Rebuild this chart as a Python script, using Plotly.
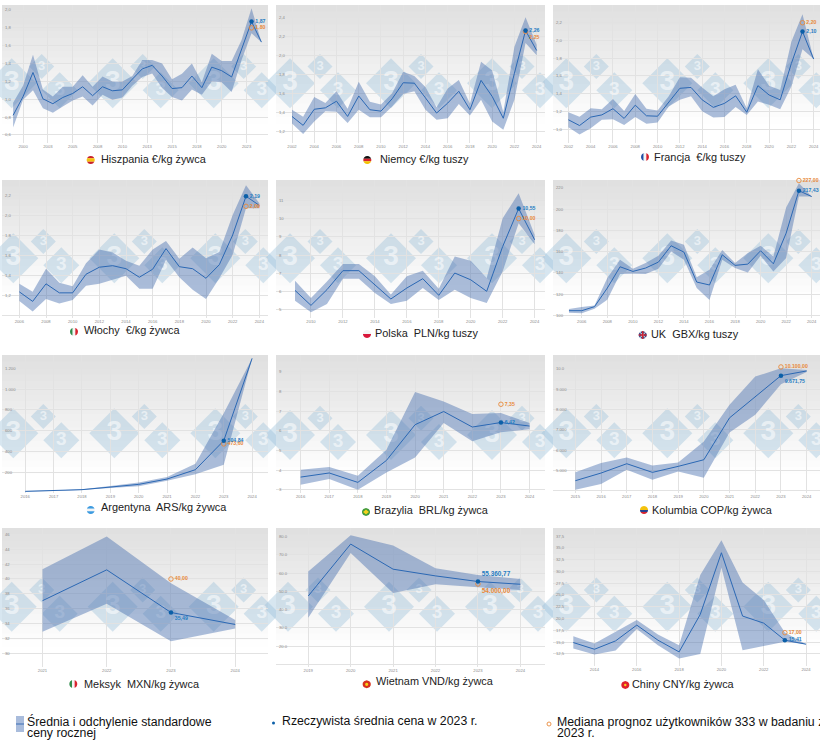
import plotly.graph_objects as go

W, H = 820, 750
FONT = "Liberation Sans"

# --- data ---
es_years = list(range(1999, 2025))
es_mean = [0.82, 1.03, 1.30, 1.005, 0.95, 1.02, 1.065, 1.14, 1.04, 1.14, 1.095, 1.105, 1.225, 1.34, 1.38, 1.26, 1.12, 1.13, 1.26, 1.13, 1.36, 1.32, 1.25, 1.55, 1.87, 1.64]
es_up = [0.96, 1.15, 1.50, 1.11, 1.03, 1.14, 1.14, 1.27, 1.14, 1.255, 1.20, 1.20, 1.26, 1.44, 1.44, 1.40, 1.225, 1.285, 1.40, 1.19, 1.51, 1.43, 1.43, 1.665, 2.02, 1.64]
es_low = [0.685, 0.995, 1.10, 0.90, 0.85, 0.92, 0.985, 1.03, 0.93, 1.05, 0.995, 1.02, 1.15, 1.25, 1.29, 1.125, 1.025, 0.985, 1.11, 1.05, 1.20, 1.19, 1.08, 1.44, 1.74, 1.64]
es_xticks = [2000, 2002.5, 2005, 2007.5, 2010, 2012.5, 2015, 2017.5, 2020, 2022.5]
es_xlabels = ["2000", "2003", "2005", "2008", "2010", "2013", "2015", "2018", "2020", "2023"]
es_yticks = [0.6, 0.8, 1.0, 1.2, 1.4, 1.6, 1.8, 2.0]
es_ylabels = ["0,6", "0,8", "1,0", "1,2", "1,4", "1,6", "1,8", "2,0"]

de_years = list(range(2002, 2025))
de_mean = [1.354, 1.26, 1.43, 1.445, 1.515, 1.354, 1.57, 1.425, 1.41, 1.54, 1.71, 1.705, 1.55, 1.39, 1.495, 1.62, 1.425, 1.735, 1.565, 1.335, 1.81, 2.26, 2.05]
de_up = [1.425, 1.35, 1.56, 1.495, 1.62, 1.435, 1.72, 1.51, 1.48, 1.60, 1.825, 1.78, 1.665, 1.45, 1.65, 1.74, 1.49, 1.93, 1.84, 1.40, 2.09, 2.40, 2.11]
de_low = [1.28, 1.17, 1.30, 1.41, 1.405, 1.285, 1.425, 1.345, 1.345, 1.46, 1.59, 1.62, 1.425, 1.32, 1.335, 1.485, 1.365, 1.53, 1.30, 1.215, 1.53, 2.13, 2.00]
de_xticks = list(range(2002, 2025, 2))
de_yticks = [1.2, 1.4, 1.6, 1.8, 2.0, 2.2, 2.4]
de_ylabels = ["1,2", "1,4", "1,6", "1,8", "2,0", "2,2", "2,4"]

fr_years = list(range(2002, 2025))
fr_mean = [1.105, 1.04, 1.135, 1.16, 1.23, 1.12, 1.27, 1.15, 1.145, 1.30, 1.46, 1.47, 1.33, 1.245, 1.29, 1.375, 1.19, 1.49, 1.385, 1.33, 1.74, 2.10, 1.79]
fr_up = [1.19, 1.14, 1.235, 1.225, 1.34, 1.205, 1.395, 1.23, 1.21, 1.37, 1.585, 1.58, 1.47, 1.37, 1.45, 1.50, 1.235, 1.675, 1.49, 1.44, 1.985, 2.295, 1.79]
fr_low = [1.02, 0.94, 1.01, 1.105, 1.11, 1.045, 1.135, 1.06, 1.075, 1.255, 1.33, 1.37, 1.20, 1.13, 1.135, 1.25, 1.16, 1.31, 1.275, 1.225, 1.48, 1.90, 1.79]
fr_xticks = list(range(2002, 2025, 2))
fr_yticks = [1.0, 1.2, 1.4, 1.6, 1.8, 2.0, 2.2]
fr_ylabels = ["1,0", "1,2", "1,4", "1,6", "1,8", "2,0", "2,2"]

it_years = list(range(2006, 2025))
it_mean = [1.24, 1.145, 1.32, 1.23, 1.23, 1.415, 1.485, 1.50, 1.47, 1.385, 1.465, 1.67, 1.49, 1.47, 1.375, 1.51, 1.805, 2.19, 2.10]
it_up = [1.32, 1.24, 1.47, 1.33, 1.295, 1.525, 1.66, 1.63, 1.55, 1.50, 1.66, 1.745, 1.57, 1.68, 1.575, 1.635, 2.005, 2.30, 2.12]
it_low = [1.15, 1.045, 1.17, 1.125, 1.16, 1.30, 1.32, 1.36, 1.40, 1.27, 1.27, 1.56, 1.385, 1.26, 1.17, 1.375, 1.61, 2.07, 2.07]
it_xticks = list(range(2006, 2025, 2))
it_yticks = [1.0, 1.2, 1.4, 1.6, 1.8, 2.0, 2.2]
it_ylabels = ["1,0", "1,2", "1,4", "1,6", "1,8", "2,0", "2,2"]

pl_years = list(range(2009, 2025))
pl_mean = [6.07, 5.25, 6.11, 7.15, 7.15, 6.38, 5.6, 6.2, 6.71, 5.8, 7.02, 6.65, 6.02, 8.47, 10.55, 8.84]
pl_up = [6.6, 5.65, 6.56, 7.51, 7.51, 6.84, 5.84, 6.84, 7.15, 6.16, 7.93, 7.69, 6.75, 10.02, 11.38, 9.11]
pl_low = [5.51, 4.87, 5.33, 6.71, 6.71, 5.93, 5.33, 5.51, 6.2, 5.55, 6.11, 5.65, 5.38, 7.11, 9.75, 8.6]
pl_xticks = list(range(2010, 2025, 2))
pl_yticks = [5, 6, 7, 8, 9, 10, 11]

uk_years = list(range(2005, 2025))
uk_mean = [104.3, 104.3, 108.1, 125.6, 145.7, 141.3, 144.5, 150.1, 165.5, 159.5, 131.3, 128.5, 157, 147, 148.2, 160.8, 148.5, 177.4, 217.43, 211.9]
uk_up = [105.9, 107.8, 109.3, 135, 152.3, 143.8, 149.2, 156, 170.5, 166.4, 135.7, 142.9, 161.4, 149.2, 158.6, 165.5, 155.4, 201.5, 224.4, 211.9]
uk_low = [102.4, 101.8, 106.2, 114.7, 138.8, 139.1, 138.8, 143.8, 160.1, 152.3, 125.6, 114.4, 152.3, 144.5, 140.4, 156, 141.3, 153.9, 211.9, 211.9]
uk_xticks = list(range(2006, 2025, 2))
uk_yticks = [100, 120, 140, 160, 180, 200, 220]

ar_years = list(range(2016, 2025))
ar_mean = [18, 24, 34, 59, 85, 136, 226, 504.84, 1296]
ar_up = [21, 27, 37, 69, 104, 155, 283, 769, 1296]
ar_low = [15, 21, 31, 50, 66, 120, 181, 273, 1296]
ar_xticks = list(range(2016, 2025))
ar_yticks = [200, 400, 600, 800, 1000, 1200]
ar_ylabels = ["200", "400", "600", "800", "1.000", "1.200"]

br_years = list(range(2016, 2025))
br_mean = [3.64, 3.85, 3.37, 4.49, 6.31, 6.98, 6.19, 6.42, 6.24]
br_up = [4.02, 4.15, 3.71, 5.03, 7.97, 7.49, 6.86, 6.90, 6.39]
br_low = [3.25, 3.54, 3.0, 3.88, 4.64, 6.39, 5.46, 5.92, 6.08]
br_xticks = list(range(2016, 2025))
br_yticks = [3, 4, 5, 6, 7, 8, 9]

co_years = list(range(2015, 2025))
co_mean = [4492, 4869, 5328, 4902, 5197, 5525, 7590, 8639, 9671.75, 9902]
co_up = [4902, 5361, 5639, 5246, 5393, 6426, 8230, 9623, 10033, 9951]
co_low = [4049, 4328, 5033, 4541, 4951, 4639, 6869, 7738, 9246, 9852]
co_xticks = list(range(2015, 2025))
co_yticks = [4000, 5000, 6000, 7000, 8000, 9000, 10000]
co_ylabels = ["4.000", "5.000", "6.000", "7.000", "8.000", "9.000", "10.0"]

mx_years = [2021, 2022, 2023, 2024]
mx_mean = [37.08, 41.23, 35.49, 33.88]
mx_up = [41.32, 45.73, 39.42, 34.47]
mx_low = [32.89, 36.68, 31.63, 33.34]
mx_xticks = [2021, 2022, 2023, 2024]
mx_yticks = [30, 32, 34, 36, 38, 40, 42, 44, 46]

vn_years = list(range(2019, 2025))
vn_mean = [47462, 75796, 62086, 58430, 55360.77, 53860]
vn_up = [60806, 80548, 75064, 62634, 58978, 56784]
vn_low = [35580, 70860, 49107, 53860, 52214, 50752]
vn_xticks = list(range(2019, 2025))
vn_yticks = [10000, 20000, 30000, 40000, 50000, 60000, 70000, 80000]
vn_ylabels = ["10.0", "20.0", "30.0", "40.0", "50.0", "60.0", "70.0", "80.0"]

cn_years = list(range(2013, 2025))
cn_mean = [14.91, 13.49, 15.27, 18.61, 15.41, 12.93, 20.88, 33.95, 20.53, 19.03, 15.41, 14.56]
cn_up = [16.26, 14.70, 17.19, 19.67, 16.62, 14.35, 29.26, 36.58, 27.63, 23.93, 17.05, 14.56]
cn_low = [13.64, 12.36, 13.21, 17.76, 14.35, 11.51, 12.5, 30.82, 13.28, 14.2, 15.06, 14.56]
cn_xticks = list(range(2014, 2025, 2))
cn_yticks = [12.5, 15, 17.5, 20, 22.5, 25, 27.5, 30, 32.5, 35, 37.5]
cn_ylabels = ["12,5", "15,0", "17,5", "20,0", "22,5", "25,0", "27,5", "30,0", "32,5", "35,0", "37,5"]

# actual 2023 mean and median forecast, with the labels printed next to them
es_point = (1.87, "1,87", 1.80, "1,80")
de_point = (2.26, "2,26", 2.25, "2,25")
fr_point = (2.10, "2,10", 2.20, "2,20")
it_point = (2.19, "2,19", 2.09, "2,09")
pl_point = (10.55, "10,55", 10.00, "10,00")
uk_point = (217.43, "217,43", 227.00, "227,00")
ar_point = (504.84, "504,84", 473.60, "473,60")
br_point = (6.42, "6,42", 7.35, "7,35")
co_point = (9671.75, "9.671,75", 10100.00, "10.100,00")
mx_point = (35.49, "35,49", 40.00, "40,00")
vn_point = (55360.77, "55.360,77", 54000.00, "54.000,00")
cn_point = (15.41, "15,41", 17.00, "17,00")

GREEN, WHITE, RED = "#2e8b4a", "#f4f4f4", "#d8232f"

panels = [
    dict(years=es_years, mean=es_mean, up=es_up, low=es_low, xt=es_xticks, xl=es_xlabels, yt=es_yticks, yl=es_ylabels, pt=es_point,
         box=(2, 5, 268, 143), bottom=150, xr=(1997.88, 2024.66), yr=(0.51, 2.056), wm=(11.7, 83.3),
         cap="Hiszpania €/kg żywca", cap_xy=(100, 159), flag_xy=(90.7, 160), stripes=[(-1, -0.45, "#c8202c"), (-0.45, 0.45, "#f4c20d"), (0.45, 1, "#c8202c")], vert=False),
    dict(years=de_years, mean=de_mean, up=de_up, low=de_low, xt=de_xticks, xl=None, yt=de_yticks, yl=de_ylabels, pt=de_point,
         box=(276, 5, 545, 143), bottom=150, xr=(2000.56, 2024.75), yr=(1.074, 2.53), wm=(290, 83.3),
         cap="Niemcy €/kg tuszy", cap_xy=(379.3, 159), flag_xy=(367.3, 160), stripes=[(-1, -0.33, "#111111"), (-0.33, 0.33, "#d8232f"), (0.33, 1, "#f2c200")], vert=False,
         median_pos="bottom right"),
    dict(years=fr_years, mean=fr_mean, up=fr_up, low=fr_low, xt=fr_xticks, xl=None, yt=fr_yticks, yl=fr_ylabels, pt=fr_point,
         box=(553, 5, 820, 143), bottom=150, xr=(2000.62, 2024.57), yr=(0.843, 2.40), wm=(566.3, 83.3),
         cap="Francja  €/kg tuszy", cap_xy=(653.3, 156.5), flag_xy=(645, 157), stripes=[(-1, -0.33, "#1f4ea3"), (-0.33, 0.33, WHITE), (0.33, 1, RED)], vert=True),
    dict(years=it_years, mean=it_mean, up=it_up, low=it_low, xt=it_xticks, xl=None, yt=it_yticks, yl=it_ylabels, pt=it_point,
         box=(2, 180, 268, 318), bottom=325, xr=(2004.7, 2024.65), yr=(0.98, 2.352), wm=(13.3, 258.3),
         cap="Włochy  €/kg żywca", cap_xy=(82.7, 330.3), flag_xy=(74, 331.7), stripes=[(-1, -0.33, GREEN), (-0.33, 0.33, WHITE), (0.33, 1, RED)], vert=True),
    dict(years=pl_years, mean=pl_mean, up=pl_up, low=pl_low, xt=pl_xticks, xl=None, yt=pl_yticks, yl=None, pt=pl_point,
         box=(276, 180, 545, 318), bottom=325, xr=(2007.81, 2024.65), yr=(4.56, 12.11), wm=(290, 258.3),
         cap="Polska  PLN/kg tuszy", cap_xy=(374.3, 333.3), flag_xy=(367, 334), stripes=[(-1, 0, WHITE), (0, 1, "#d8173a")], vert=False),
    dict(years=uk_years, mean=uk_mean, up=uk_up, low=uk_low, xt=uk_xticks, xl=None, yt=uk_yticks, yl=None, pt=uk_point,
         box=(553, 180, 820, 318), bottom=325, xr=(2003.75, 2024.65), yr=(97.4, 227.5), wm=(566.3, 258.3),
         cap="UK  GBX/kg tuszy", cap_xy=(650.3, 333.7), flag_xy=(642.7, 335), stripes=[(-1, 1, "#3a4a86")], vert=False),
    dict(years=ar_years, mean=ar_mean, up=ar_up, low=ar_low, xt=ar_xticks, xl=None, yt=ar_yticks, yl=ar_ylabels, pt=ar_point,
         box=(2, 355, 268, 493), bottom=500, xr=(2015.18, 2024.56), yr=(2, 1328), wm=(13.3, 433.3),
         cap="Argentyna  ARS/kg żywca", cap_xy=(100, 507.3), flag_xy=(90.7, 510), stripes=[(-1, -0.33, "#3d9be0"), (-0.33, 0.33, WHITE), (0.33, 1, "#3d9be0")], vert=False),
    dict(years=br_years, mean=br_mean, up=br_up, low=br_low, xt=br_xticks, xl=None, yt=br_yticks, yl=None, pt=br_point,
         box=(276, 355, 545, 493), bottom=500, xr=(2015.14, 2024.54), yr=(2.83, 9.86), wm=(290, 435),
         cap="Brazylia  BRL/kg żywca", cap_xy=(372.7, 510.3), flag_xy=(366, 512), stripes=[(-1, 1, "#3f9a3c")], vert=False),
    dict(years=co_years, mean=co_mean, up=co_up, low=co_low, xt=co_xticks, xl=None, yt=co_yticks, yl=co_ylabels, pt=co_point,
         box=(553, 355, 820, 493), bottom=500, xr=(2014.13, 2024.52), yr=(3885, 10689), wm=(566.3, 433.3),
         cap="Kolumbia COP/kg żywca", cap_xy=(651.3, 510), flag_xy=(644, 510), stripes=[(-1, 0, "#f4c20d"), (0, 0.5, "#27408f"), (0.5, 1, "#d8232f")], vert=False,
         real_pos="bottom right"),
    dict(years=mx_years, mean=mx_mean, up=mx_up, low=mx_low, xt=mx_xticks, xl=None, yt=mx_yticks, yl=None, pt=mx_point,
         box=(2, 528, 268, 667), bottom=673, xr=(2020.37, 2024.51), yr=(28.16, 46.86), wm=(11.7, 606.7),
         cap="Meksyk  MXN/kg żywca", cap_xy=(82.7, 684), flag_xy=(73.3, 684), stripes=[(-1, -0.33, GREEN), (-0.33, 0.33, WHITE), (0.33, 1, RED)], vert=True,
         real_pos="bottom right"),
    dict(years=vn_years, mean=vn_mean, up=vn_up, low=vn_low, xt=vn_xticks, xl=None, yt=vn_yticks, yl=vn_ylabels, pt=vn_point,
         box=(276, 528, 545, 667), bottom=673, xr=(2018.24, 2024.58), yr=(8708, 84570), wm=(288, 606.7),
         cap="Wietnam VND/kg żywca", cap_xy=(374.7, 681.3), flag_xy=(366.7, 684.3), stripes=[(-1, 1, "#d8301c")], vert=False,
         real_pos="top right", median_pos="bottom right", label_size=6.4),
    dict(years=cn_years, mean=cn_mean, up=cn_up, low=cn_low, xt=cn_xticks, xl=None, yt=cn_yticks, yl=cn_ylabels, pt=cn_point,
         box=(553, 528, 820, 666), bottom=672, xr=(2012.04, 2024.66), yr=(9.94, 39.2), wm=(566.3, 606.7),
         cap="Chiny CNY/kg żywca", cap_xy=(631.3, 684), flag_xy=(625.3, 685), stripes=[(-1, 1, "#e0202c")], vert=False),
]


def px(x):
    return x / W


def py(y):
    return 1 - y / H


def poly_path(points):
    return "M " + " L ".join(f"{px(x):.5f},{py(y):.5f}" for x, y in points) + " Z"


def flag_shapes(cx, cy, stripes, vert, r=4):
    out = []
    for a, b, color in stripes:
        steps = [a + (b - a) * k / 8 for k in range(9)]
        right = [(max(1 - t * t, 0) ** 0.5, t) for t in steps]
        left = [(-u, t) for u, t in reversed(right)]
        pts = right + left
        if vert:
            pts = [(t, u) for u, t in pts]
        pts = [(cx + u * r, cy + t * r) for u, t in pts]
        out.append(dict(type="path", path=poly_path(pts), xref="paper", yref="paper",
                        fillcolor=color, line_width=0, layer="below"))
    return out


shapes = []
annotations = []
fig = go.Figure()

for i, p in enumerate(panels, start=1):
    suffix = "" if i == 1 else str(i)
    xname, yname = f"x{suffix}", f"y{suffix}"
    left, top, right, bot = p["box"]
    x0, x1 = p["xr"]
    y0, y1 = p["yr"]

    # grey-to-white panel background, painted top down so no seams show
    nbands = 22
    for k in range(nbands):
        t = k / (nbands - 1)
        g = round(224 + (255 - 224) * min(t / 0.85, 1))
        yy = top + (p["bottom"] - top) * k / nbands
        shapes.append(dict(type="rect", xref="paper", yref="paper", layer="below", line_width=0,
                           x0=px(left), x1=px(right), y0=py(yy), y1=py(p["bottom"]),
                           fillcolor=f"rgb({g},{g},{g})"))

    # watermark: three clusters of diamonds with a "3"
    wx, wy = p["wm"]
    tx, ty, ts = [], [], []
    for rep in range(3):
        for dx, dy, half, size in [(0, 0, 25, 28), (30, -16.7, 12.5, 13), (48, 7, 18, 19)]:
            cx, cy = wx + rep * 101 + dx, wy + dy
            dom = [(cx - half, cy), (cx, cy - half), (cx + half, cy), (cx, cy + half)]
            path = "M " + " L ".join(f"{(a - left) / (right - left):.4f},{(bot - b) / (bot - top):.4f}" for a, b in dom) + " Z"
            shapes.append(dict(type="path", path=path, xref=f"{xname} domain", yref=f"{yname} domain",
                               fillcolor="rgba(150,190,215,0.38)", line_width=0, layer="below"))
            tx.append(x0 + (cx - left) / (right - left) * (x1 - x0))
            ty.append(y1 - (cy - top) / (bot - top) * (y1 - y0))
            ts.append(size)
    fig.add_trace(go.Scatter(x=tx, y=ty, mode="text", text=["3"] * len(tx), textposition="middle center",
                             textfont=dict(family=FONT, size=ts, color="rgba(255,255,255,0.55)", weight="bold"),
                             hoverinfo="skip", showlegend=False, xaxis=xname, yaxis=yname))

    # standard deviation band and yearly mean
    fig.add_trace(go.Scatter(x=p["years"] + p["years"][::-1], y=p["up"] + p["low"][::-1], fill="toself",
                             fillcolor="rgba(70,110,175,0.45)", mode="none", hoverinfo="skip",
                             showlegend=False, xaxis=xname, yaxis=yname))
    fig.add_trace(go.Scatter(x=p["years"], y=p["mean"], mode="lines", line=dict(color="#2b68b4", width=1),
                             showlegend=False, xaxis=xname, yaxis=yname))

    # 2023 points
    real, real_txt, median, median_txt = p["pt"]
    label_size = p.get("label_size", 5.2)
    fig.add_trace(go.Scatter(x=[2023], y=[median], mode="markers+text", text=[f"<b>{median_txt}</b>"],
                             textposition=p.get("median_pos", "middle right"), cliponaxis=False,
                             textfont=dict(family=FONT, size=label_size, color="#e8893a"),
                             marker=dict(size=4.5, color="rgba(0,0,0,0)", line=dict(color="#e8893a", width=0.9)),
                             showlegend=False, xaxis=xname, yaxis=yname))
    fig.add_trace(go.Scatter(x=[2023], y=[real], mode="markers+text", text=[f"<b>{real_txt}</b>"],
                             textposition=p.get("real_pos", "middle right"), cliponaxis=False,
                             textfont=dict(family=FONT, size=label_size, color="#1f7cc2"),
                             marker=dict(size=4.5, color="#0b5fa8"),
                             showlegend=False, xaxis=xname, yaxis=yname))

    xlabels = p["xl"] if p["xl"] else [str(v) for v in p["xt"]]
    ylabels = p["yl"] if p["yl"] else [str(v) for v in p["yt"]]
    fig.update_layout(**{
        f"xaxis{suffix}": dict(domain=[px(left), px(right)], range=[x0, x1], anchor=yname, tickvals=p["xt"], ticktext=xlabels,
                               showgrid=True, gridcolor="#e2e2e2", gridwidth=0.6, zeroline=False, showline=False, ticks="",
                               tickfont=dict(family=FONT, size=4.2, color="#8a8a8a"), ticklabelstandoff=0),
        f"yaxis{suffix}": dict(domain=[py(bot), py(top)], range=[y0, y1], anchor=xname, tickvals=p["yt"], ticktext=ylabels,
                               showgrid=True, gridcolor="#e2e2e2", gridwidth=0.6, zeroline=False, showline=False, ticks="",
                               ticklabelposition="inside", tickfont=dict(family=FONT, size=4.2, color="#8a8a8a")),
    })

    # caption and flag
    annotations.append(dict(text=p["cap"], x=px(p["cap_xy"][0]), y=py(p["cap_xy"][1]), xref="paper", yref="paper",
                            xanchor="left", yanchor="middle", showarrow=False, borderpad=0,
                            font=dict(family=FONT, size=10.9, color="#222222")))
    shapes.extend(flag_shapes(p["flag_xy"][0], p["flag_xy"][1], p["stripes"], p["vert"]))

# small details on the flags
ukx, uky = panels[5]["flag_xy"]
for a, b, c, d, col, lw in [(-3, -3, 3, 3, "#f4f4f4", 1), (-3, 3, 3, -3, "#f4f4f4", 1), (-4, 0, 4, 0, "#d8232f", 1.3), (0, -4, 0, 4, "#d8232f", 1.3)]:
    shapes.append(dict(type="line", xref="paper", yref="paper", x0=px(ukx + a), y0=py(uky + b), x1=px(ukx + c), y1=py(uky + d),
                       line=dict(color=col, width=lw), layer="below"))
brx, bry = panels[7]["flag_xy"]
shapes.append(dict(type="path", path=poly_path([(brx - 3, bry), (brx, bry - 2.4), (brx + 3, bry), (brx, bry + 2.4)]),
                   xref="paper", yref="paper", fillcolor="#f2d21c", line_width=0, layer="below"))
for key, rad, col in [(10, 1.6, "#f6d21a"), (11, 1.2, "#f6d21a")]:
    fx, fy = panels[key]["flag_xy"]
    shapes.append(dict(type="circle", xref="paper", yref="paper", x0=px(fx - rad), x1=px(fx + rad), y0=py(fy - rad), y1=py(fy + rad),
                       fillcolor=col, line_width=0, layer="below"))

# legend row under the charts
shapes.append(dict(type="rect", xref="paper", yref="paper", x0=px(16), x1=px(24), y0=py(716), y1=py(732),
                   fillcolor="#a9bcdc", line_width=0))
shapes.append(dict(type="line", xref="paper", yref="paper", x0=px(16), x1=px(24), y0=py(724), y1=py(724),
                   line=dict(color="#3d6fb5", width=1)))
shapes.append(dict(type="circle", xref="paper", yref="paper", x0=px(272), x1=px(275), y0=py(721.5), y1=py(724.5),
                   fillcolor="#0b5fa8", line_width=0))
shapes.append(dict(type="circle", xref="paper", yref="paper", x0=px(547), x1=px(551), y0=py(722), y1=py(726),
                   fillcolor="rgba(0,0,0,0)", line=dict(color="#e8893a", width=0.9)))
for txt, x, y in [("Średnia i odchylenie standardowe", 26, 721), ("ceny rocznej", 26, 733),
                  ("Rzeczywista średnia cena w 2023 r.", 281, 721),
                  ("Mediana prognoz użytkowników 333 w badaniu z", 556, 722), ("2023 r.", 556, 733)]:
    annotations.append(dict(text=txt, x=px(x), y=py(y), xref="paper", yref="paper", xanchor="left", yanchor="middle",
                            showarrow=False, borderpad=0, font=dict(family=FONT, size=12.3, color="#111111")))

fig.update_layout(width=W, height=H, autosize=False, margin=dict(l=0, r=0, t=0, b=0, pad=0),
                  paper_bgcolor="white", plot_bgcolor="rgba(0,0,0,0)", showlegend=False,
                  shapes=shapes, annotations=annotations, font=dict(family=FONT))

fig.write_html("out.html", config={"displayModeBar": False},
               post_script="document.body.style.margin='0';document.documentElement.style.overflow='hidden';")
